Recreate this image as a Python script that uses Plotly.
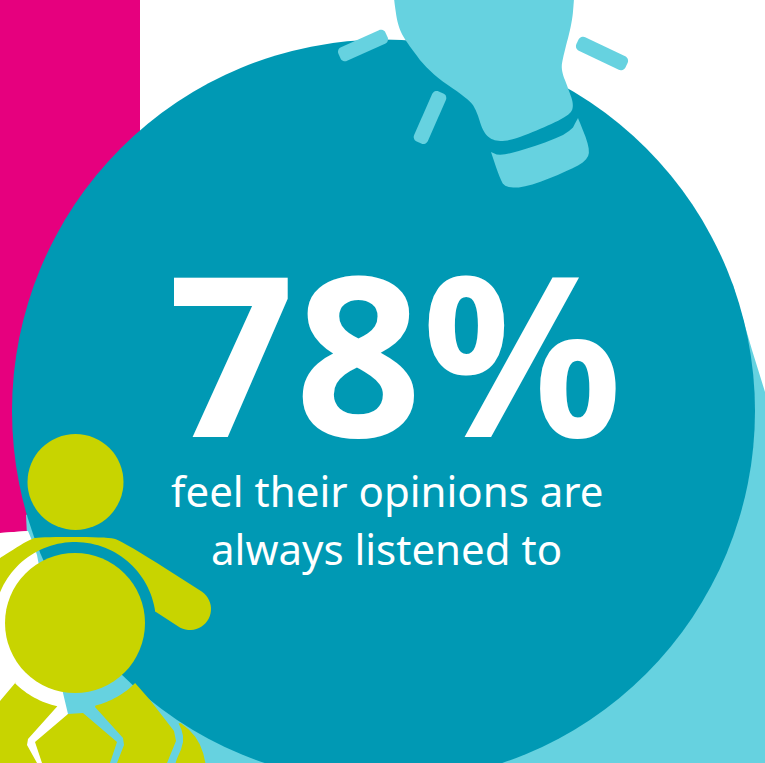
import math
import plotly.graph_objects as go

# ---- content ----
PERCENT = [78]
CAPTION_LINES = ["feel their opinions are", "always listened to"]

PINK = "#E6007E"
DARK = "#0099B4"
LIGHT = "#66D2E0"
OLIVE = "#C8D400"
WHITE = "#FFFFFF"


def chaikin(pts, n=3, closed=True):
    for _ in range(n):
        out = []
        m = len(pts)
        for i in range(m if closed else m - 1):
            a, b = pts[i], pts[(i + 1) % m]
            out.append((a[0] * .75 + b[0] * .25, a[1] * .75 + b[1] * .25))
            out.append((a[0] * .25 + b[0] * .75, a[1] * .25 + b[1] * .75))
        pts = out
    return pts


def arc(cx, cy, r, a0, a1, n=60):
    return [(cx + r * math.cos(math.radians(a0 + (a1 - a0) * i / n)),
             cy + r * math.sin(math.radians(a0 + (a1 - a0) * i / n))) for i in range(n + 1)]


def bar(p, q, w, c=5):
    """Rounded rectangle from p to q: half-width w, corner radius c."""
    ang = math.degrees(math.atan2(q[1] - p[1], q[0] - p[0]))
    ux, uy = math.cos(math.radians(ang)), math.sin(math.radians(ang))
    nx, ny = -uy, ux
    s = w - c
    return (arc(q[0] - nx * s, q[1] - ny * s, c, ang - 90, ang, 8)
            + arc(q[0] + nx * s, q[1] + ny * s, c, ang, ang + 90, 8)
            + arc(p[0] + nx * s, p[1] + ny * s, c, ang + 90, ang + 180, 8)
            + arc(p[0] - nx * s, p[1] - ny * s, c, ang + 180, ang + 270, 8))


def to_path(pts):
    return "M" + " L".join(f"{x:.2f},{y:.2f}" for x, y in pts) + " Z"


shapes = []


def poly(pts, color):
    shapes.append(dict(type="path", path=to_path(pts), fillcolor=color, line_width=0, layer="above"))


def circle(cx, cy, r, color):
    shapes.append(dict(type="circle", x0=cx - r, x1=cx + r, y0=cy - r, y1=cy + r,
                       fillcolor=color, line_width=0, layer="above"))


# backdrop
poly([(0, 0), (140, 0), (140, 535), (85, 530), (28, 531), (0, 533)], PINK)
poly([(690, 220), (733, 285), (752, 350), (765, 392), (765, 763), (60, 763), (30, 600), (26, 515)], LIGHT)
poly([(0, 533), (28, 531), (33, 543), (37, 555), (63, 693), (68, 714), (42, 763), (0, 763)], WHITE)
circle(383.5, 411, 371.5, DARK)

# light bulb
bulb = [(394, -6), (394, 0), (398, 27), (407, 43), (430, 73), (470, 100), (477, 112), (483, 132),
        (493, 141), (510, 141), (543, 128), (570, 115), (574, 105), (568, 88), (561, 70), (563, 57),
        (572, 23), (574, 0), (574, -6)]
poly(chaikin(bulb, 3), LIGHT)
base = [(491, 152), (491, 152), (500, 156), (530, 148), (570, 133), (578, 118), (578, 118), (590, 148),
        (587, 161), (563, 173), (527, 187), (505, 188), (499, 176)]
poly(chaikin(base, 2), LIGHT)
poly(bar((344, 54), (382, 37), 7.5), LIGHT)
poly(bar((439, 97), (421, 138), 7.5), LIGHT)
poly(bar((582, 44), (622, 63), 7.5), LIGHT)

# person
BX, BY = 75, 623
shoulder_top = chaikin([(0, 558), (0, 558), (30, 539), (40, 537), (108, 537), (122, 541), (203, 592)], 3, closed=False)
hand = arc(190, 609, 21, -55, 125, 24)
hole = arc(BX, BY, 81, -8, -165, 60)
poly([(0, 558)] + shoulder_top + hand + [(156, 612)] + hole + [(0, 592)], OLIVE)
circle(BX, BY, 70, OLIVE)
circle(75.5, 482, 48, OLIVE)

poly([(0, 701), (16, 682)] + arc(BX, BY, 85, 135, 102, 16) + [(28, 739), (27, 745), (37, 763), (0, 763)], OLIVE)
poly([(68, 714), (83, 713), (117, 742), (110, 763), (110, 775), (42, 775), (42, 763), (35, 742)], OLIVE)
poly([(95, 707)] + arc(BX, BY, 85, 76, 45, 16) + [(150, 700), (174, 731), (176, 741), (167, 763), (117, 763), (124, 745), (123, 738)], OLIVE)
poly(chaikin([(177, 720), (193, 733), (202, 748), (207, 770), (175, 770), (175, 763), (183, 745), (183, 733)], 1), OLIVE)

fig = go.Figure()
fig.update_layout(
    width=765, height=763,
    margin=dict(l=0, r=0, t=0, b=0),
    paper_bgcolor=WHITE, plot_bgcolor=WHITE,
    showlegend=False,
    xaxis=dict(range=[0, 765], visible=False, fixedrange=True),
    yaxis=dict(range=[763, 0], visible=False, fixedrange=True),
    shapes=shapes,
    annotations=[
        dict(x=395, y=351, xref="x", yref="y", text=f"<b>{PERCENT[0]}%</b>", showarrow=False, height=190,
             font=dict(family="Noto Sans", size=222, color=WHITE), xanchor="center", yanchor="middle"),
        dict(x=387, y=490, xref="x", yref="y", text=CAPTION_LINES[0], showarrow=False,
             font=dict(family="Noto Sans", size=42, color=WHITE), xanchor="center", yanchor="middle"),
        dict(x=386, y=548, xref="x", yref="y", text=CAPTION_LINES[1], showarrow=False,
             font=dict(family="Noto Sans", size=42, color=WHITE), xanchor="center", yanchor="middle"),
    ],
)
fig.write_html("out.html", config=dict(displayModeBar=False),
               post_script="document.body.style.margin='0';document.body.style.overflow='hidden';")
